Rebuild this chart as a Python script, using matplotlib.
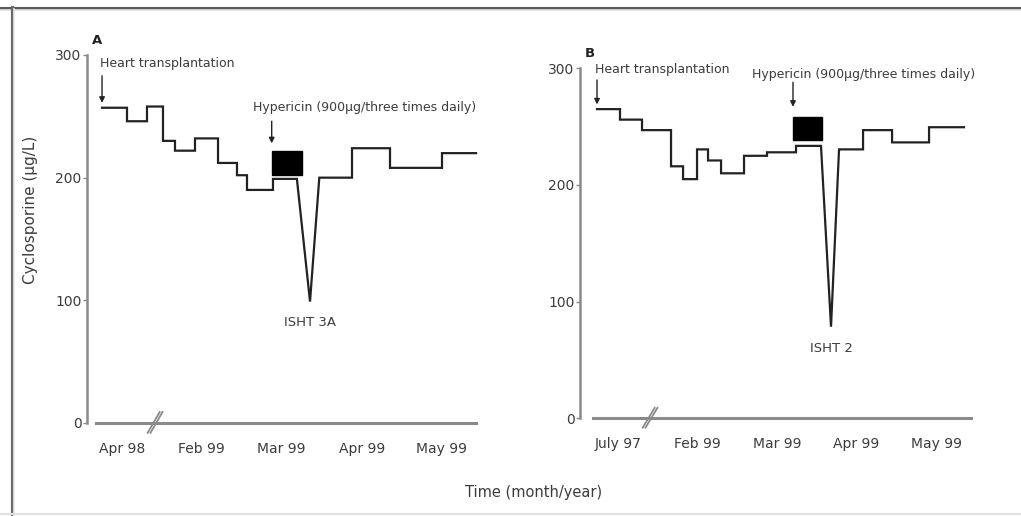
import matplotlib
matplotlib.use("Agg")
import matplotlib.pyplot as plt
from matplotlib.lines import Line2D
from matplotlib.patches import Rectangle

# ---------------- data ----------------
months_A = ["Apr 98", "Feb 99", "Mar 99", "Apr 99", "May 99"]
months_B = ["July 97", "Feb 99", "Mar 99", "Apr 99", "May 99"]
month_pos = [1, 2, 3, 4, 5]
yticks = [0, 100, 200, 300]

# Panel A: cyclosporine step levels (time in month-tick units)
pre_t_A = [0.754, 1.066, 1.316, 1.516, 1.666, 1.916, 2.204, 2.441, 2.566, 2.891, 3.19]
pre_v_A = [257, 246, 258, 230, 222, 232, 212, 202, 190, 199]
dip_t_A, dip_v_A = 3.354, 99
post_t_A = [3.47, 3.879, 4.354, 5.004, 5.43]
post_v_A = [200, 224, 208, 220]
hyp_A = (2.875, 3.25)          # hypericin period
hyp_box_A = (202, 222)
label_dip_A = "ISHT 3A"

# Panel B
pre_t_B = [0.736, 1.025, 1.302, 1.667, 1.818, 1.994, 2.132, 2.296, 2.585, 2.874, 3.239, 3.553]
pre_v_B = [265, 256, 247, 216, 205, 230.5, 221, 210, 225, 228, 233.5]
dip_t_B, dip_v_B = 3.679, 78.5
post_t_B = [3.78, 4.082, 4.447, 4.912, 5.352]
post_v_B = [230.5, 247, 236.5, 249.5]
hyp_B = (3.201, 3.566)
hyp_box_B = (238.5, 258)
label_dip_B = "ISHT 2"

W, H = 1021, 516
TXT = "#3c3c3c"
LINE = "#222222"
SPINE = "#8a8a8a"
FONT = "DejaVu Sans"

plt.rcParams["font.family"] = FONT

fig = plt.figure(figsize=(W / 100, H / 100), dpi=100)
fig.patch.set_facecolor("white")


def steps(t, v):
    xs, ys = [], []
    for i in range(len(v)):
        xs += [t[i], t[i + 1]]
        ys += [v[i], v[i]]
    return xs, ys


def make_panel(rect_px, xlim, spine_x, letter, months, pre_t, pre_v, dip_t, dip_v,
               post_t, post_v, hyp, hyp_box, dip_label, brk, ht_text_y, hyp_text,
               ht_arrow, hyp_arrow, letter_y, dip_label_y):
    l, t, r, b = rect_px
    ax = fig.add_axes([l / W, 1 - b / H, (r - l) / W, (b - t) / H])
    ax.set_xlim(*xlim)
    ax.set_ylim(0, 300)
    for s in ["top", "right"]:
        ax.spines[s].set_visible(False)
    ax.spines["left"].set_color(SPINE)
    ax.spines["left"].set_linewidth(1.8)
    ax.spines["bottom"].set_color(SPINE)
    ax.spines["bottom"].set_linewidth(2.2)
    ax.spines["bottom"].set_bounds(*spine_x)
    ax.set_yticks(yticks)
    ax.set_yticklabels([str(v) for v in yticks])
    ax.tick_params(axis="y", length=3, width=1, color=SPINE, pad=1,
                   labelsize=10, labelcolor=TXT)
    ax.set_xticks(month_pos)
    ax.set_xticklabels(months)
    ax.tick_params(axis="x", length=0, pad=13.5, labelsize=10, labelcolor=TXT)

    xa, ya = steps(pre_t, pre_v)
    xb, yb = steps(post_t, post_v)
    ax.plot(xa + [dip_t] + xb, ya + [dip_v] + yb, color=LINE, lw=1.6,
            solid_joinstyle="miter", clip_on=False)

    ax.add_patch(Rectangle((hyp[0], hyp_box[0]), hyp[1] - hyp[0],
                           hyp_box[1] - hyp_box[0], facecolor="black",
                           edgecolor="black", clip_on=False))

    # arrows
    ax.annotate("", xy=(pre_t[0], ht_arrow[1]), xytext=(pre_t[0], ht_arrow[0]),
                arrowprops=dict(arrowstyle="-|>", color="#222222", lw=1,
                                mutation_scale=8, shrinkA=0, shrinkB=0),
                annotation_clip=False)
    ax.annotate("", xy=(hyp[0], hyp_arrow[1]), xytext=(hyp[0], hyp_arrow[0]),
                arrowprops=dict(arrowstyle="-|>", color="#222222", lw=1,
                                mutation_scale=8, shrinkA=0, shrinkB=0),
                annotation_clip=False)

    ax.text(pre_t[0] - 0.03, ht_text_y, "Heart transplantation", fontsize=9,
            color=TXT, ha="left", va="center", clip_on=False)
    ax.text(hyp_text[0], hyp_text[1], "Hypericin (900µg/three times daily)",
            fontsize=9, color=TXT, ha="left", va="center", clip_on=False)
    ax.text(dip_t, dip_label_y, dip_label, fontsize=9.5, color=TXT,
            ha="center", va="center")
    ax.text(xlim[0] + 0.06, letter_y, letter, fontsize=9.5, fontweight="bold",
            color="#222222", ha="left", va="center", clip_on=False)

    # axis break mark
    for d in (0.0, 0.035):
        ax.plot([brk - 0.07 + d, brk + 0.08 + d], [-8, 9], color=SPINE, lw=1.3,
                clip_on=False)
    return ax


make_panel((87, 55, 480, 423), (0.566, 5.479), (0.68, 5.43), "A", months_A,
           pre_t_A, pre_v_A, dip_t_A, dip_v_A, post_t_A, post_v_A, hyp_A,
           hyp_box_A, label_dip_A, 1.395, 293, (2.64, 257), (283, 261), (246, 228),
           312, 82)

make_panel((580, 68.3, 975, 418.3), (0.522, 5.49), (0.686, 5.436), "B", months_B,
           pre_t_B, pre_v_B, dip_t_B, dip_v_B, post_t_B, post_v_B, hyp_B,
           hyp_box_B, label_dip_B, 1.381, 299, (2.686, 295), (290, 269), (288, 267),
           313, 60)

fig.text(30 / W, 1 - 210 / H, "Cyclosporine (µg/L)", rotation=90, fontsize=11,
         color=TXT, ha="center", va="center")
fig.text(534 / W, 1 - 493 / H, "Time (month/year)", fontsize=10.5, color=TXT,
         ha="center", va="center")

# outer frame
fig.add_artist(Line2D([0, 1], [1 - 7.5 / H] * 2, color="#5a5a5a", lw=2.2))
fig.add_artist(Line2D([0, 1], [1 - 10 / H] * 2, color="#e4e4e4", lw=1.2))
fig.add_artist(Line2D([11.5 / W] * 2, [0, 1 - 6.5 / H], color="#6a6a6a", lw=2.3))
fig.add_artist(Line2D([14 / W] * 2, [0, 1 - 9 / H], color="#ededed", lw=1.2))
fig.add_artist(Line2D([0, 1], [1 - 514 / H] * 2, color="#e0e0e0", lw=1.5))

fig.savefig("out.png", dpi=100, facecolor="white")
